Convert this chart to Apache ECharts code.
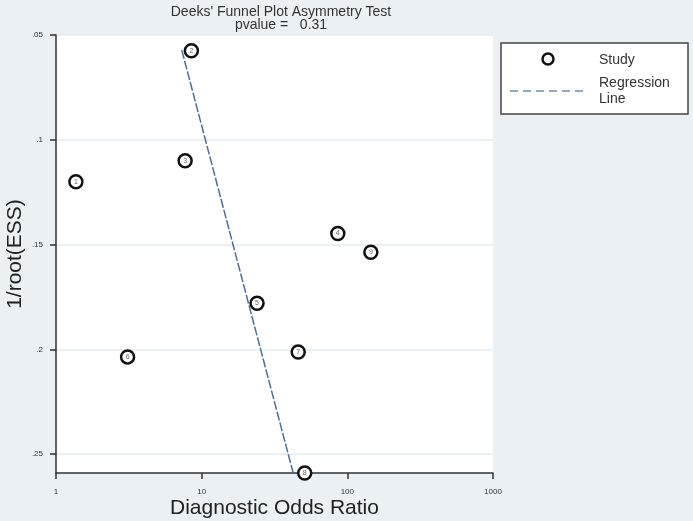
<!DOCTYPE html>
<html>
<head>
<meta charset="utf-8">
<script src="https://cdn.jsdelivr.net/npm/echarts@6/dist/echarts.min.js"></script>
<style>html,body{margin:0;padding:0;background:#eaf0f3;}#c{width:693px;height:521px;}</style>
</head>
<body>
<div id="c"></div>
<script>
// Data
var studyIds = ['1','2','3','4','5','6','7','8','9'];
var dorValues = [1.37, 8.5, 7.7, 86, 24, 3.1, 46, 51, 145];
var invRootEss = [0.120, 0.0575, 0.110, 0.1447, 0.178, 0.2036, 0.2013, 0.259, 0.1537];
var regressionDor = [7.3, 42.5];
var regressionY = [0.0572, 0.259];
var yTicks = [0.05, 0.1, 0.15, 0.2, 0.25];
var yTickLabels = ['.05', '.1', '.15', '.2', '.25'];
var xTicks = [1, 10, 100, 1000];

var chart = echarts.init(document.getElementById('c'));
var font = 'Liberation Sans, Arial, sans-serif';
var scatterData = dorValues.map(function (v, i) { return { name: studyIds[i], value: [v, invRootEss[i]] }; });
var lineData = regressionDor.map(function (v, i) { return [v, regressionY[i]]; });

chart.setOption({
  backgroundColor: '#eaf0f3',
  animation: false,
  title: {
    text: "Deeks' Funnel Plot Asymmetry Test\npvalue =   0.31",
    left: 276, top: 1, textAlign: 'center',
    textStyle: { fontFamily: font, fontSize: 14, fontWeight: 'normal', color: '#333', lineHeight: 13 }
  },
  grid: { left: 56, right: 200, top: 35, bottom: 48, show: true, backgroundColor: '#fff', borderWidth: 0, outerBoundsMode: 'none', containLabel: false },
  xAxis: {
    type: 'log', logBase: 10, min: 1, max: 1000,
    name: 'Diagnostic Odds Ratio', nameLocation: 'middle', nameGap: 25, nameMoveOverlap: false,
    nameTextStyle: { fontFamily: font, fontSize: 21, color: '#222' },
    axisLine: { show: true, onZero: false, lineStyle: { color: '#333', width: 1.5 } },
    axisTick: { show: true, length: 6, lineStyle: { color: '#333', width: 1.5 } },
    axisLabel: { fontFamily: font, fontSize: 8, color: '#333', margin: 15,
      formatter: function (v) { return xTicks.indexOf(Math.round(v)) >= 0 ? String(Math.round(v)) : ''; } },
    splitLine: { show: false }, minorTick: { show: false }
  },
  yAxis: {
    type: 'value', inverse: true, min: 0.05, max: 0.259,
    name: '1/root(ESS)', nameLocation: 'middle', nameGap: 30, nameRotate: 90, nameMoveOverlap: false,
    nameTextStyle: { fontFamily: font, fontSize: 21, color: '#222' },
    axisLine: { show: true, onZero: false, lineStyle: { color: '#333', width: 1.5 } },
    axisTick: { show: true, length: 6, customValues: yTicks, lineStyle: { color: '#333', width: 1.5 } },
    axisLabel: { fontFamily: font, fontSize: 8, color: '#333', margin: 13, customValues: yTicks,
      formatter: function (v) {
        for (var i = 0; i < yTicks.length; i++) { if (Math.abs(v - yTicks[i]) < 1e-6) return yTickLabels[i]; }
        return '';
      } },
    splitLine: { show: true, lineStyle: { color: '#e3ebef', width: 1.5 } }
  },
  series: [
    {
      type: 'line', data: lineData, symbol: 'none', z: 2,
      lineStyle: { color: '#4a6f98', width: 1.5, type: [9, 2] }
    },
    {
      type: 'scatter', data: scatterData, symbol: 'circle', symbolSize: 13, z: 3,
      itemStyle: { color: '#fff', borderColor: '#111', borderWidth: 2.5, opacity: 1 },
      label: { show: true, position: 'inside', formatter: '{b}', fontFamily: font, fontSize: 7, color: '#666' }
    }
  ],
  graphic: [
    { type: 'rect', shape: { x: 501, y: 43, width: 187, height: 71 },
      style: { fill: '#fff', stroke: '#444', lineWidth: 1.5 } },
    { type: 'circle', shape: { cx: 548, cy: 59, r: 5.5 },
      style: { fill: '#f4f4f4', stroke: '#111', lineWidth: 2.5 } },
    { type: 'text', style: { x: 599, y: 60, text: 'Study', fontFamily: font, fontSize: 14, fill: '#333', verticalAlign: 'middle' } },
    { type: 'line', shape: { x1: 510, y1: 91, x2: 587, y2: 91 },
      style: { stroke: '#6a8fb0', lineWidth: 1.5, lineDash: [8, 5] } },
    { type: 'text', style: { x: 599, y: 91, text: 'Regression\nLine', fontFamily: font, fontSize: 14, lineHeight: 16, fill: '#333', verticalAlign: 'middle' } }
  ]
});
</script>
</body>
</html>
